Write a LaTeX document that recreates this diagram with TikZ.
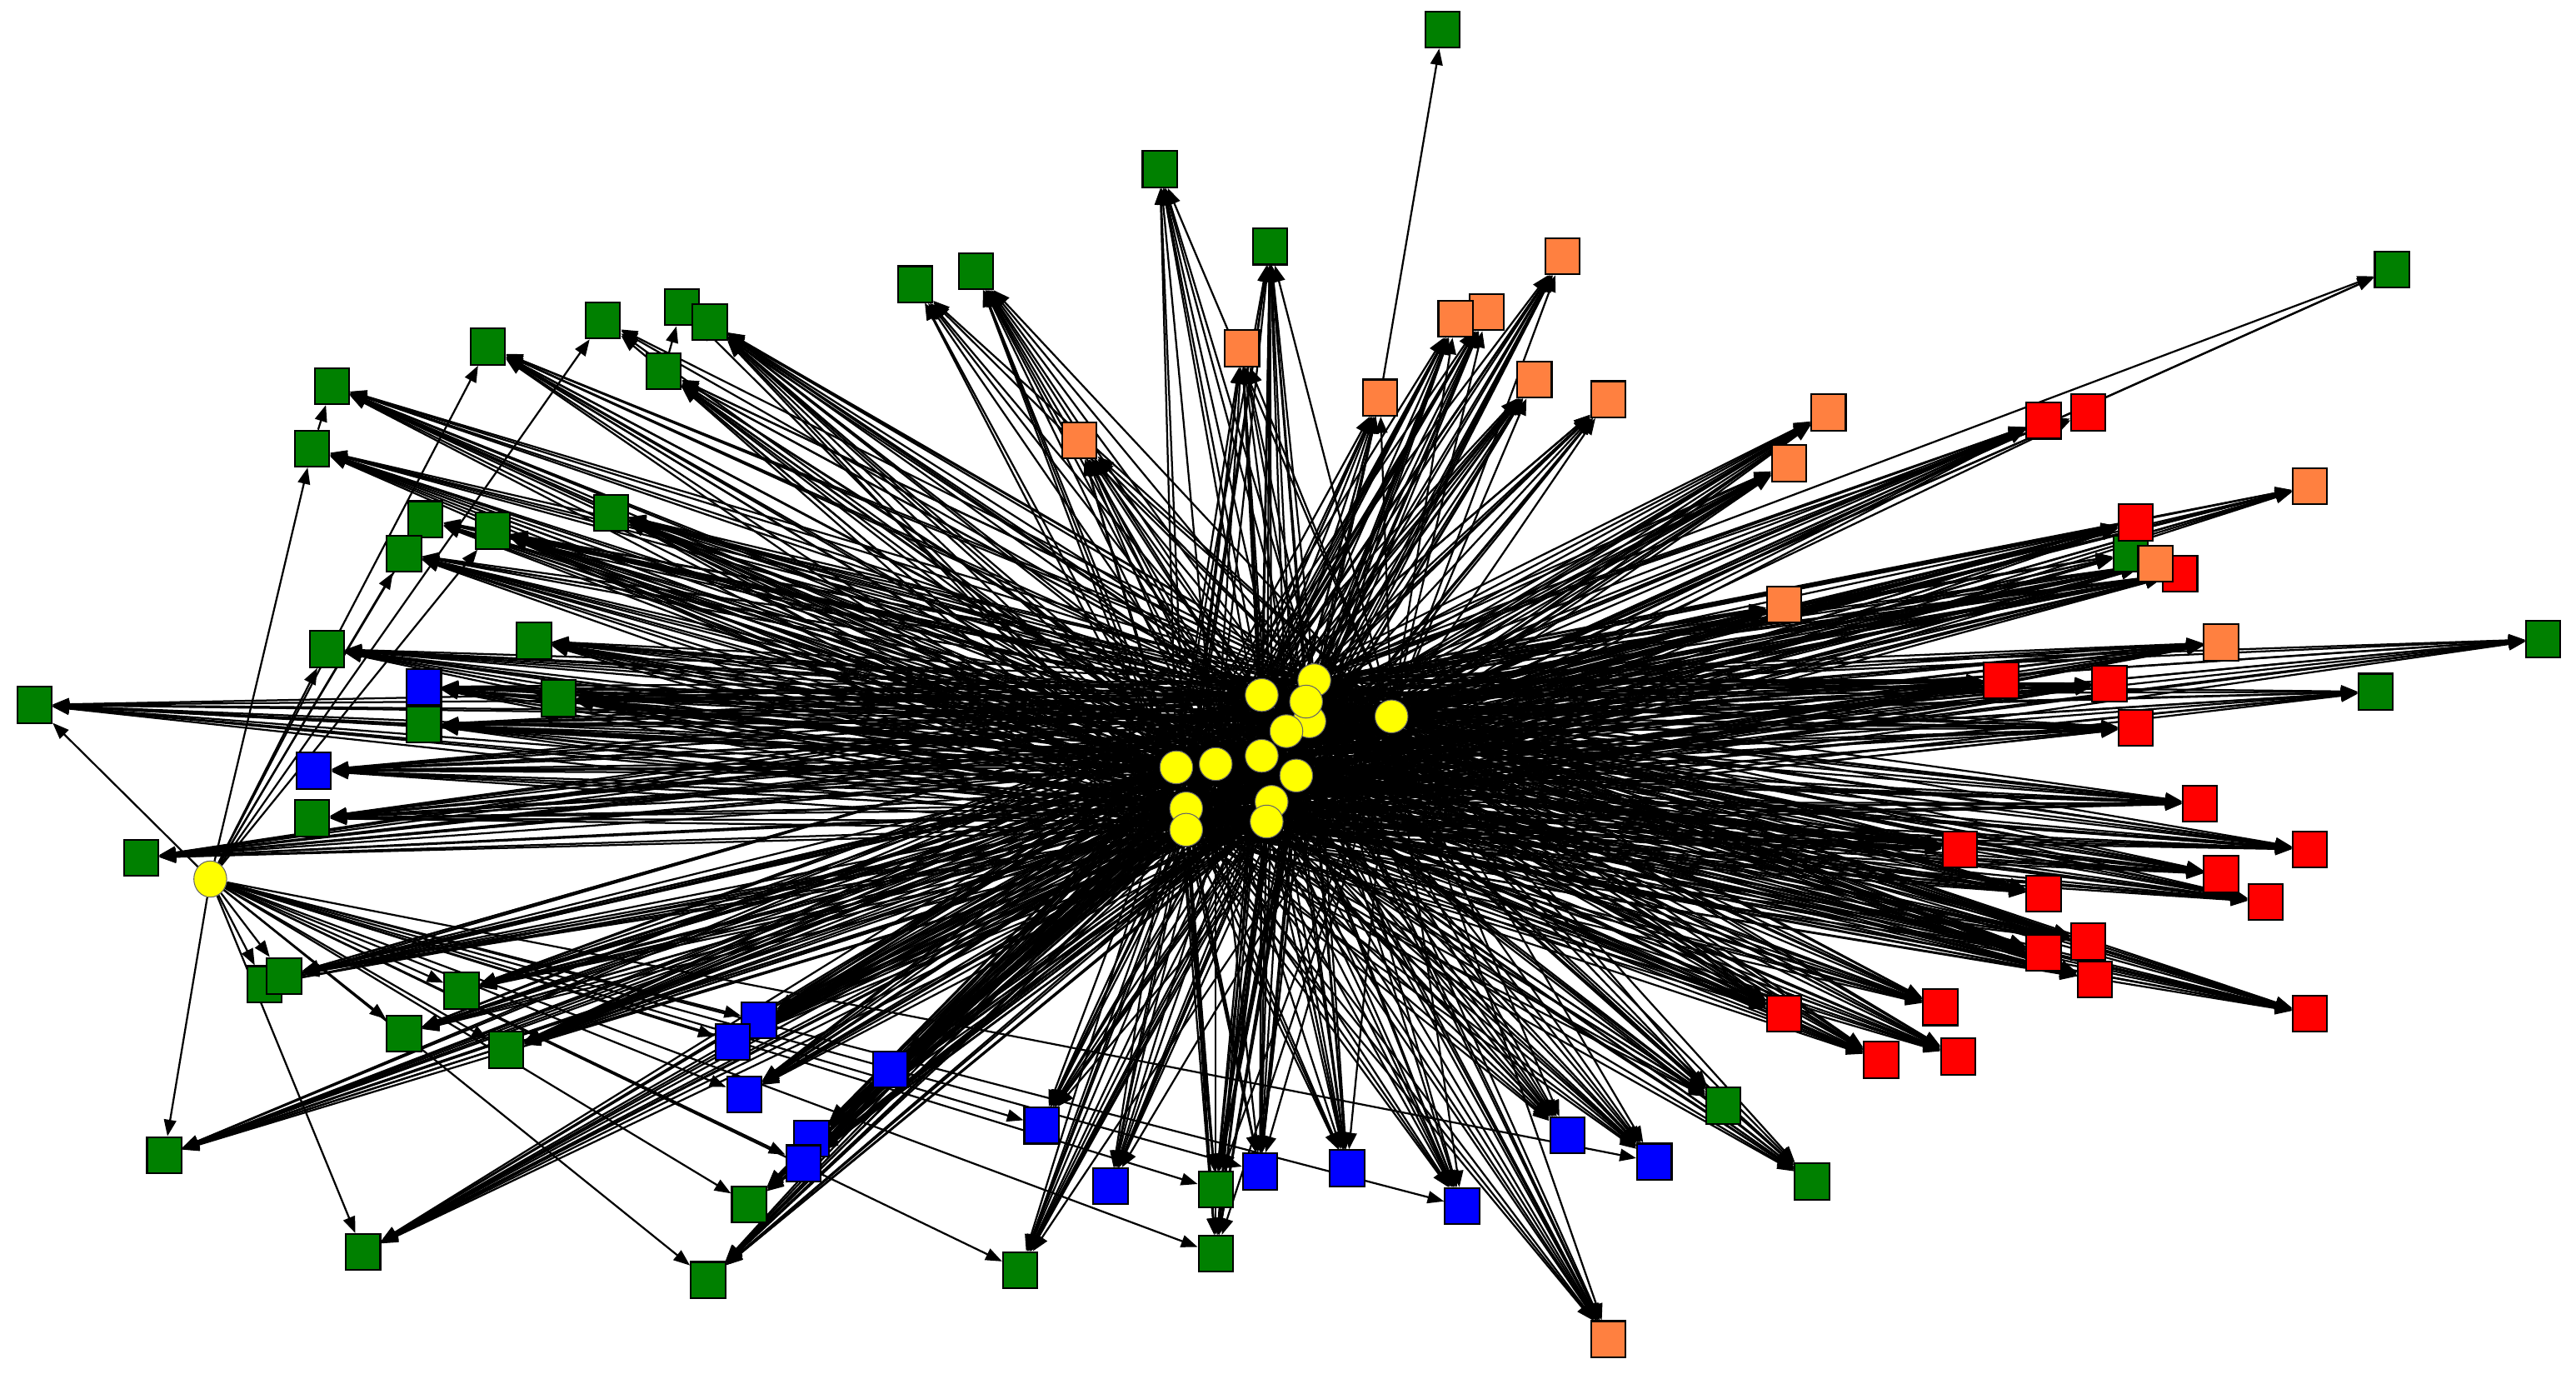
\documentclass[tikz,border=0pt]{standalone}
\usetikzlibrary{arrows.meta,backgrounds,shapes.geometric}
\definecolor{colG}{RGB}{0,128,0}
\definecolor{colB}{RGB}{0,0,255}
\definecolor{colO}{RGB}{255,128,64}
\definecolor{colR}{RGB}{255,0,0}
\definecolor{colY}{RGB}{255,255,0}
\tikzset{
  sq/.style={rectangle, draw=black, line width=0.6pt, inner sep=0pt, minimum width=0.42cm, minimum height=0.44cm},
  hub/.style={circle, draw=black!60, line width=0.3pt, fill=colY, inner sep=0pt, minimum size=0.40cm},
  edge/.style={draw=black, line width=0.65pt, -{Triangle[length=2.0mm,width=1.5mm]}}
}
\begin{document}
\begin{tikzpicture}[x=0.02cm, y=-0.02cm]
\useasboundingbox (0,0) rectangle (1568,836);
% ---------- squares ----------
\foreach \n/\x/\y/\c in {
 ga/878/18/colG, gb/706/103/colG, gc/773/150/colG, gd/557/173/colG, ge/594/165/colG,
 gf/367/195/colG, gg/415/187/colG, gh/432/196/colG, gi/404/226/colG, gj/297/211/colG,
 gk/202/235/colG, gl/190/273/colG, gm/259/316/colG, gn/246/337/colG, go/300/323/colG,
 gp/372/312/colG, gq/325/390/colG, gr/199/395/colG, gs/340/425/colG, gt/258/441/colG,
 gu/21/429/colG, gv/190/498/colG, gw/86/522/colG, gx/1456/164/colG, gy/1548/389/colG,
 gz/1446/421/colG, gA/1297/337/colG, gB/161/599/colG, gC/173/594/colG, gD/281/603/colG,
 gE/246/629/colG, gF/308/639/colG, gG/100/703/colG, gH/221/762/colG, gI/431/779/colG,
 gJ/456/733/colG, gK/621/773/colG, gL/740/763/colG, gM/740/724/colG, gN/1049/673/colG,
 gO/1103/719/colG,
 ra/1244/256/colR, rb/1271/251/colR, rc/1300/318/colR, rd/1327/349/colR, re/1218/414/colR,
 rf/1284/416/colR, rg/1300/443/colR, rh/1339/489/colR, ri/1406/517/colR, rj/1193/517/colR,
 rk/1352/532/colR, rl/1244/544/colR, rm/1379/549/colR, rn/1244/580/colR, ro/1271/573/colR,
 rp/1275/596/colR, rq/1181/613/colR, rr/1086/617/colR, rs/1145/645/colR, rt/1192/643/colR,
 ru/1406/617/colR,
 ba/258/418/colB, bb/191/469/colB, bc/462/621/colB, bd/446/634/colB, be/453/666/colB,
 bf/542/651/colB, bg/494/693/colB, bh/489/708/colB, bi/634/685/colB, bj/676/722/colB,
 bk/767/713/colB, bl/820/711/colB, bm/890/734/colB, bn/954/691/colB, bo/1007/707/colB,
 oa/951/156/colO, ob/905/190/colO, oc/886/194/colO, od/756/212/colO, oe/840/242/colO,
 of/934/231/colO, og/979/243/colO, oh/657/268/colO, oi/1113/251/colO, oj/1089/282/colO,
 ok/1406/296/colO, ol/1312/343/colO, om/1086/368/colO, on/1352/391/colO, oo/979/815/colO}
 { \node[sq, fill=\c] (\n) at (\x,\y) {}; }
% ---------- hubs ----------
\foreach \i/\x/\y in {
 1/768/423, 2/722/492, 3/847/436, 4/774/488, 5/716/467, 6/800/414, 7/789/472,
 8/740/465, 9/797/439, 10/771/500, 11/768/460, 12/722/505, 13/795/427, 14/783/445}
 { \node[hub] (h\i) at (\x,\y) {}; }
\node[hub, ellipse, minimum width=0.40cm, minimum height=0.44cm] (L) at (128,535) {};
% ---------- connectors ----------
\begin{pgfonlayer}{background}
\fill[white] (0,0) rectangle (1568,836);
\foreach \n/\k in {
 gb/9, gc/14, gd/7, ge/12, gf/4, gg/3, gh/14, gi/12, gj/12, gk/12, gl/12, gm/10, gn/12,
 go/12, gp/14, gq/14, gr/14, gs/14, gt/14, gu/12, gv/14, gw/14, gx/3, gy/10, gz/10, gA/7,
 gB/4, gC/12, gD/14, gE/10, gF/14, gG/12, gH/12, gI/12, gJ/10, gK/12, gL/12, gM/14,
 gN/12, gO/12,
 ba/14, bb/14, bc/12, bd/12, be/12, bf/14, bg/14, bh/12, bi/12, bj/12, bk/14, bl/14,
 bm/12, bn/12, bo/12,
 oa/12, ob/12, oc/12, od/12, oe/12, of/12, og/10, oh/10, oi/12, oj/12, ok/10, ol/14,
 om/14, on/14, oo/14,
 ra/14, rb/4, rc/14, rd/14, re/14, rf/14, rg/14, rh/14, ri/14, rj/14, rk/14, rl/14,
 rm/14, rn/14, ro/14, rp/14, rq/14, rr/14, rs/14, rt/14, ru/14}
 { \foreach \h in {1,...,\k} { \draw[edge] (h\h) -- (\n); } }
\foreach \n in {gu, gl, gr, gn, gm, go, gj, gf, gB, gC, gE, gF, gD, gG, gH, gI, gJ,
 bc, bd, be, bh, bi, bk, bm, bo, gK, gL, gM}
 { \draw[edge] (L) -- (\n); }
\draw[edge] (oe) -- (ga);
\draw[edge] (gl) -- (gk);
\draw[edge] (gn) -- (gm);
\draw[edge] (gi) -- (gg);
\end{pgfonlayer}
\end{tikzpicture}
\end{document}
